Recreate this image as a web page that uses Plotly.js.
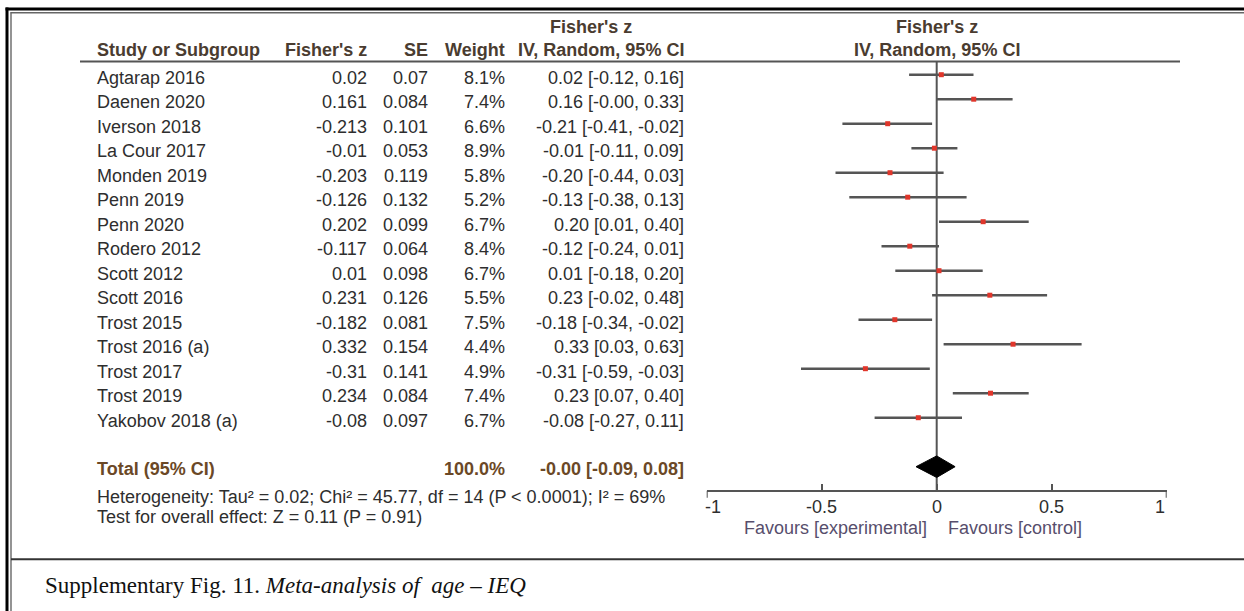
<!DOCTYPE html>
<html>
<head>
<meta charset="utf-8">
<script src="https://cdn.plot.ly/plotly-3.0.1.min.js"></script>
<style>html,body{margin:0;padding:0;background:#fff;}#chart{width:1244px;height:611px;}</style>
</head>
<body>
<div id="chart"></div>
<script>
// ---------------- data ----------------
const studies = ["Agtarap 2016","Daenen 2020","Iverson 2018","La Cour 2017","Monden 2019","Penn 2019","Penn 2020","Rodero 2012","Scott 2012","Scott 2016","Trost 2015","Trost 2016 (a)","Trost 2017","Trost 2019","Yakobov 2018 (a)"];
const fisherZ = [0.02, 0.161, -0.213, -0.01, -0.203, -0.126, 0.202, -0.117, 0.01, 0.231, -0.182, 0.332, -0.31, 0.234, -0.08];
const se = [0.07, 0.084, 0.101, 0.053, 0.119, 0.132, 0.099, 0.064, 0.098, 0.126, 0.081, 0.154, 0.141, 0.084, 0.097];
const weights = [8.1, 7.4, 6.6, 8.9, 5.8, 5.2, 6.7, 8.4, 6.7, 5.5, 7.5, 4.4, 4.9, 7.4, 6.7];
const estimate = [0.02, 0.16, -0.21, -0.01, -0.20, -0.13, 0.20, -0.12, 0.01, 0.23, -0.18, 0.33, -0.31, 0.23, -0.08];
const ciLow = [-0.12, -0.00, -0.41, -0.11, -0.44, -0.38, 0.01, -0.24, -0.18, -0.02, -0.34, 0.03, -0.59, 0.07, -0.27];
const ciHigh = [0.16, 0.33, -0.02, 0.09, 0.03, 0.13, 0.40, 0.01, 0.20, 0.48, -0.02, 0.63, -0.03, 0.40, 0.11];
const totalWeight = 100.0;
const totalEst = -0.00, totalLow = -0.09, totalHigh = 0.08;
const axisTicks = [-1, -0.5, 0, 0.5, 1];
const axisTickText = ["-1", "-0.5", "0", "0.5", "1"];
const heterogeneityText = "Heterogeneity: Tau² = 0.02; Chi² = 45.77, df = 14 (P < 0.0001); I² = 69%";
const overallText = "Test for overall effect: Z = 0.11 (P = 0.91)";
const favoursLeft = "Favours [experimental]";
const favoursRight = "Favours [control]";
const captionPlain = "Supplementary Fig. 11. ";
const captionItalic = "Meta-analysis of\u00a0 age – IEQ";

// ---------------- geometry helpers ----------------
const W = 1244, H = 611;
const row0Px = 74.7, rowPx = 24.5;
const px = p => p / W;
const py = p => 1 - p / H;
const rowOf = p => (p - row0Px) / rowPx;
const totalRow = studies.length + 1;
const axisPx = 490.7;

function fmt(v) {
  const s = Math.abs(v).toFixed(2);
  return (v < 0 || Object.is(v, -0)) ? "-" + s : s;
}

const SANS = "Liberation Sans, Arial, sans-serif";
const SERIF = "Liberation Serif, Times New Roman, serif";
const BODY = "#2e2e2e";
const HEAD = "#4a3c30";
const TOTAL = "#6b4826";
const FAV = "#574e6c";
const LINE = "#555555";

// ---------------- traces ----------------
const rows = studies.map((_, i) => i);
const studyTrace = {
  type: "scatter", mode: "markers",
  x: fisherZ, y: rows,
  marker: { symbol: "square", size: 5, color: "#e0362b" },
  error_x: {
    type: "data", symmetric: false,
    array: ciHigh.map((h, i) => h - fisherZ[i]),
    arrayminus: ciLow.map((l, i) => fisherZ[i] - l),
    color: LINE, thickness: 2.5, width: 0
  },
  hoverinfo: "skip", showlegend: false, cliponaxis: false
};
const dHalf = 0.44;
const diamondTrace = {
  type: "scatter", mode: "lines",
  x: [totalLow, totalEst, totalHigh, totalEst, totalLow],
  y: [totalRow, totalRow - dHalf, totalRow, totalRow + dHalf, totalRow],
  fill: "toself", fillcolor: "#000", line: { color: "#000", width: 1 },
  hoverinfo: "skip", showlegend: false
};

// ---------------- annotations ----------------
const ann = [];
function txt(text, x, y, opts) {
  ann.push(Object.assign({
    text: text, x: x, y: y, xref: "paper", yref: "y", showarrow: false,
    xanchor: "left", yanchor: "middle",
    font: { family: SANS, size: 18, color: BODY }
  }, opts || {}));
}
const colStudy = px(95), colZ = px(368.5), colSE = px(430), colW = px(507), colCI = px(686);
studies.forEach((s, i) => {
  txt(s, colStudy, i, { yshift: -3 });
  txt(String(fisherZ[i]), colZ, i, { xanchor: "right", yshift: -3 });
  txt(String(se[i]), colSE, i, { xanchor: "right", yshift: -3 });
  txt(weights[i].toFixed(1) + "%", colW, i, { xanchor: "right", yshift: -3 });
  txt(fmt(estimate[i]) + " [" + fmt(ciLow[i]) + ", " + fmt(ciHigh[i]) + "]", colCI, i, { xanchor: "right", yshift: -3 });
});
// header
const hFont = { family: SANS, size: 18, color: HEAD, weight: "bold" };
const h1 = rowOf(26.7), h2 = rowOf(50);
txt("<b>Study or Subgroup</b>", colStudy, h2, { font: hFont });
txt("<b>Fisher's z</b>", colZ, h2, { xanchor: "right", font: hFont });
txt("<b>SE</b>", colSE, h2, { xanchor: "right", font: hFont });
txt("<b>Weight</b>", colW, h2, { xanchor: "right", font: hFont });
txt("<b>Fisher's z</b>", px(591), h1, { xanchor: "center", font: hFont });
txt("<b>IV, Random, 95% CI</b>", colCI, h2, { xanchor: "right", font: hFont });
txt("<b>Fisher's z</b>", px(937), h1, { xanchor: "center", font: hFont });
txt("<b>IV, Random, 95% CI</b>", px(937), h2, { xanchor: "center", font: hFont });
// total row
const tFont = { family: SANS, size: 18, color: TOTAL };
txt("<b>Total (95% CI)</b>", colStudy, totalRow, { font: tFont, yshift: -2 });
txt("<b>" + totalWeight.toFixed(1) + "%</b>", colW, totalRow, { xanchor: "right", font: tFont, yshift: -2 });
txt("<b>" + fmt(totalEst) + " [" + fmt(totalLow) + ", " + fmt(totalHigh) + "]</b>", colCI, totalRow, { xanchor: "right", font: tFont, yshift: -2 });
// footnotes
txt(heterogeneityText, colStudy, rowOf(496.7));
txt(overallText, colStudy, rowOf(516.5));
// favours
txt(favoursLeft, px(929), rowOf(528), { xanchor: "right", font: { family: SANS, size: 18, color: FAV } });
txt(favoursRight, px(946), rowOf(528), { xanchor: "left", font: { family: SANS, size: 18, color: FAV } });
// tick labels (drawn on the forest x scale)
axisTicks.forEach((t, i) => {
  ann.push({
    text: axisTickText[i], x: t, y: rowOf(506.5), xref: "x", yref: "y", showarrow: false,
    xanchor: "center", yanchor: "middle",
    xshift: t === -1 ? 6 : (t === 1 ? -7 : 0),
    font: { family: SANS, size: 18, color: BODY }
  });
});
// caption
txt(captionPlain + "<i>" + captionItalic + "</i>", px(43), rowOf(585), { font: { family: SERIF, size: 23, color: "#111" } });

// ---------------- shapes ----------------
const shapes = [
  // outer frame (double line)
  { type: "line", xref: "paper", yref: "paper", x0: px(5.5), x1: 1, y0: py(9), y1: py(9), line: { color: "#000", width: 3 } },
  { type: "line", xref: "paper", yref: "paper", x0: px(10.5), x1: 1, y0: py(12.8), y1: py(12.8), line: { color: "#666", width: 1.4 } },
  { type: "line", xref: "paper", yref: "paper", x0: px(7), x1: px(7), y0: py(7.5), y1: 0, line: { color: "#000", width: 3 } },
  { type: "line", xref: "paper", yref: "paper", x0: px(11), x1: px(11), y0: py(12.2), y1: 0, line: { color: "#666", width: 1.4 } },
  // caption separator
  { type: "line", xref: "paper", yref: "paper", x0: px(11), x1: 1, y0: py(559.3), y1: py(559.3), line: { color: "#333", width: 2 } },
  // header underline
  { type: "line", xref: "paper", yref: "paper", x0: px(80), x1: px(1180), y0: py(61.6), y1: py(61.6), line: { color: LINE, width: 2 } },
  // line of no effect
  { type: "line", xref: "x", yref: "y", x0: 0, x1: 0, y0: rowOf(61.6), y1: rowOf(axisPx), line: { color: LINE, width: 2 }, layer: "below" },
  // end caps of the scale (extend below axis)
  { type: "line", xref: "x", yref: "y", x0: -1, x1: -1, ysizemode: "pixel", yanchor: rowOf(axisPx), y0: 0, y1: -7, line: { color: LINE, width: 2 } },
  { type: "line", xref: "x", yref: "y", x0: 1, x1: 1, ysizemode: "pixel", yanchor: rowOf(axisPx), y0: 0, y1: -7, line: { color: LINE, width: 2 } }
];

const layout = {
  width: W, height: H,
  margin: { l: 0, r: 0, t: 0, b: 0, pad: 0 },
  paper_bgcolor: "#fff", plot_bgcolor: "rgba(0,0,0,0)",
  showlegend: false,
  xaxis: {
    domain: [px(706.7), px(1166.7)], range: [-1, 1],
    anchor: "free", position: py(axisPx),
    showline: true, linecolor: LINE, linewidth: 2,
    ticks: "inside", ticklen: 6, tickwidth: 2, tickcolor: LINE,
    tickvals: axisTicks, showticklabels: false,
    showgrid: false, zeroline: false, fixedrange: true
  },
  yaxis: {
    domain: [0, 1], range: [rowOf(H), rowOf(0)],
    visible: false, showgrid: false, zeroline: false, fixedrange: true
  },
  annotations: ann,
  shapes: shapes
};

Plotly.newPlot("chart", [studyTrace, diamondTrace], layout, { displayModeBar: false, staticPlot: true });
</script>
</body>
</html>
